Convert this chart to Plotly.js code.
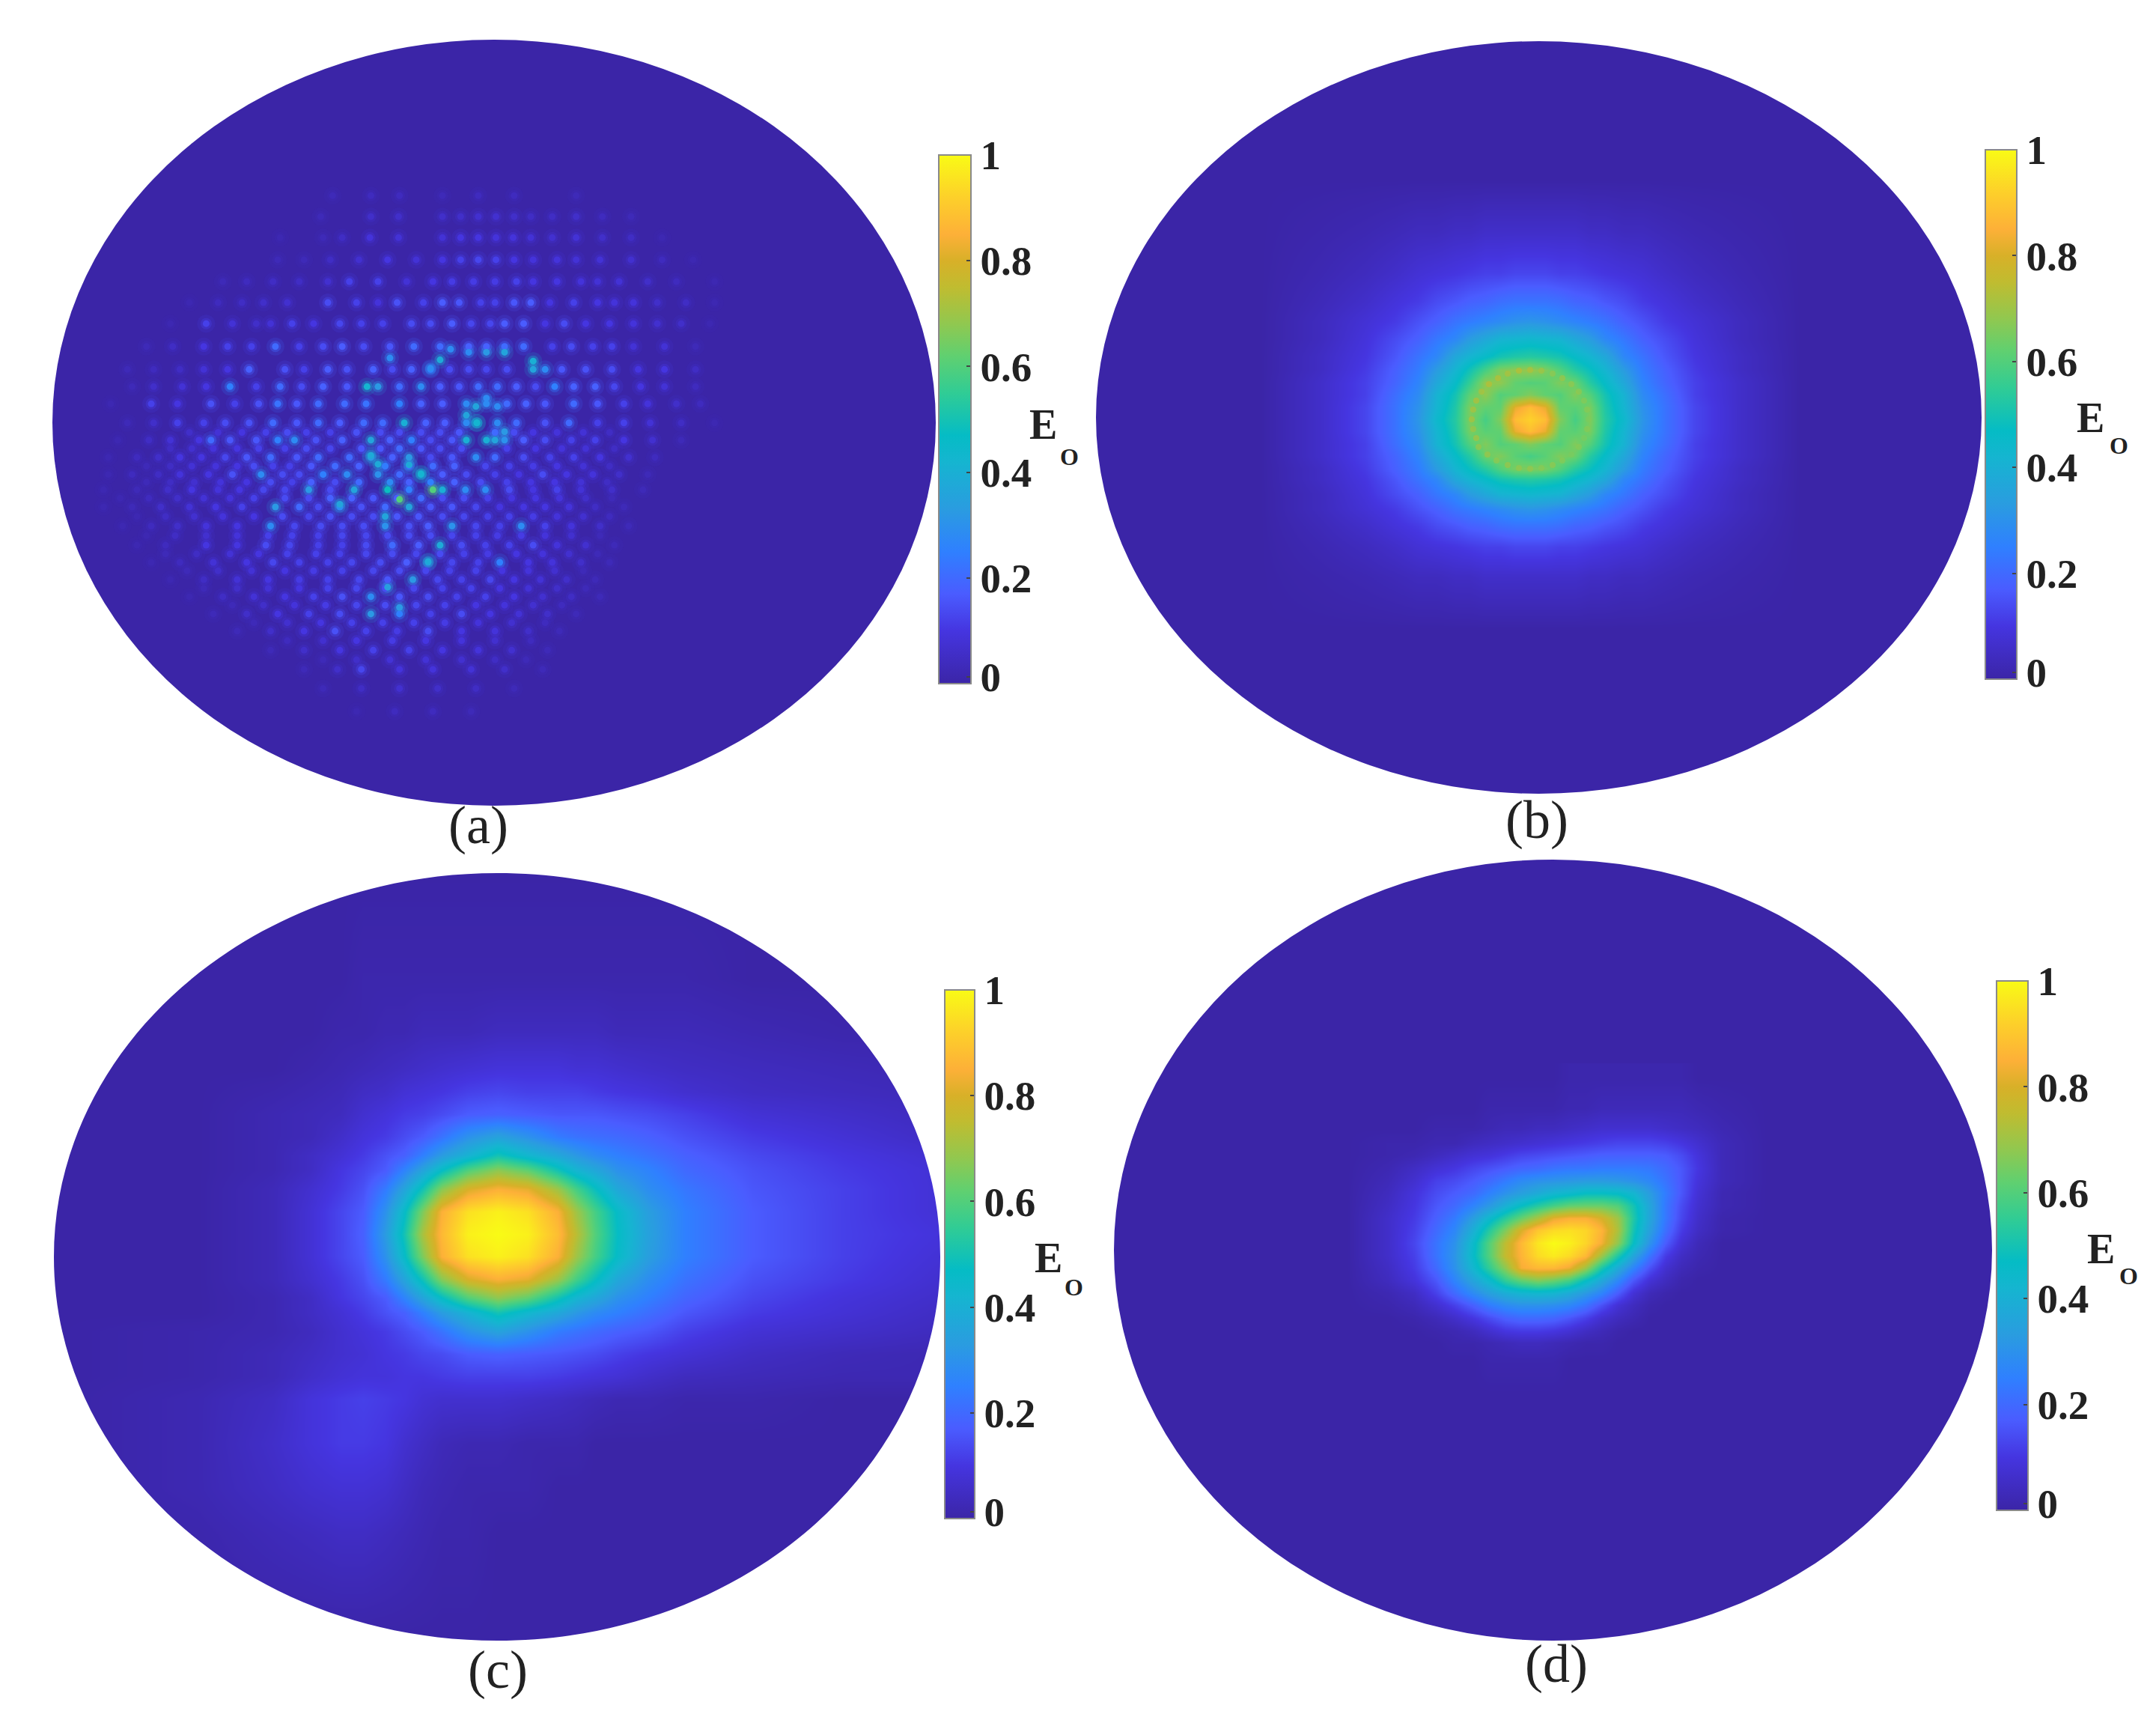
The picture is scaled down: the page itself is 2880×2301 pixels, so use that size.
<!DOCTYPE html>
<html>
<head>
<meta charset="utf-8">
<script src="https://cdn.plot.ly/plotly-3.0.1.min.js"></script>
<style>html,body{margin:0;padding:0;background:#fff}</style>
</head>
<body>
<div id="plot" style="width:2880px;height:2301px"></div>
<script>
// colour scale
var parula = [[0,'#3b25a7'],[0.1,'#4535e0'],[0.17,'#4a5cff'],[0.25,'#2f80ff'],[0.33,'#2a9ce0'],[0.42,'#15b5d0'],[0.47,'#05bcc5'],[0.55,'#30cc95'],[0.62,'#60d070'],[0.68,'#90c850'],[0.75,'#c0bc30'],[0.8,'#d8b028'],[0.85,'#fdb038'],[0.92,'#fdd02a'],[1,'#f9fb15']];
// the 0 label sits a little above the end of the bar
var barTicks = [0.013,0.2,0.4,0.6,0.8,1];
var barLabels = ['0','0.2','0.4','0.6','0.8','1'];

// (a) lattice of spots, one list per row
var dotRowY = [120,175,230,288,345,400,455,515,575,620,665,715,760,805,850,890,935,985,1035,1080,1125,1170,1215,1260,1310,1360,1410,1470];
var dotRowX = [
 [540,620,680,770,845,920,1050],
 [515,620,678,770,808,845,882,920,955,1000,1050,1105,1165],
 [430,520,560,618,678,770,808,845,882,918,955,1000,1050,1105,1165,1230],
 [425,480,535,595,655,715,770,808,845,882,920,960,1010,1050,1100,1165,1230,1295],
 [310,360,415,470,530,575,635,695,750,790,835,880,925,960,1010,1060,1095,1140,1200,1260,1340],
 [240,300,350,395,445,530,590,635,675,730,770,805,850,880,920,955,995,1045,1095,1130,1170,1220,1280,1340],
 [200,275,330,380,410,455,500,555,600,645,705,745,790,830,870,900,940,985,1025,1070,1120,1170,1220,1270,1330],
 [150,205,270,320,370,420,470,520,560,605,660,710,765,825,862,900,940,1000,1040,1085,1125,1170,1235,1300],
 [110,165,220,270,320,365,440,480,530,570,625,665,705,745,785,825,862,905,960,985,1020,1070,1125,1180,1235,1300],
 [120,165,225,275,325,380,430,475,520,570,612,635,680,725,765,805,845,885,925,965,1005,1045,1090,1130,1185,1235,1300],
 [75,160,215,285,335,385,425,465,510,565,610,680,725,770,820,862,905,945,985,1045,1095,1150,1200,1260,1310],
 [110,165,215,270,315,365,415,465,510,555,605,645,690,735,775,820,842,885,925,985,1035,1095,1150,1205,1270,1340],
 [90,155,200,260,285,325,380,425,460,505,560,620,660,705,745,790,820,862,900,940,985,1040,1090,1150,1210,1270],
 [70,130,175,220,265,315,360,410,465,510,575,620,665,700,745,790,840,880,940,995,1045,1100,1160,1215],
 [70,120,175,220,280,330,390,435,470,520,570,635,680,725,770,820,880,930,980,1030,1085,1140,1200],
 [60,130,195,245,300,345,395,440,490,535,585,655,700,750,770,818,860,910,960,1010,1060,1125,1190],
 [60,120,180,240,295,350,420,470,510,555,600,650,700,745,790,840,890,940,985,1035,1090,1150],
 [100,160,215,275,340,410,460,515,560,605,650,700,740,790,840,890,935,985,1040,1100,1160],
 [130,190,275,340,400,450,510,560,610,665,720,765,810,860,910,960,1010,1070,1130],
 [160,220,290,360,415,470,530,580,640,695,740,790,845,890,950,1000,1060,1120],
 [200,270,340,405,470,530,595,655,708,760,810,870,920,975,1030,1090],
 [240,310,375,440,500,560,620,680,740,800,860,920,980,1040,1100],
 [290,360,425,490,555,620,680,745,810,870,930,990,1050],
 [340,410,480,545,610,675,740,810,880,950,1015],
 [410,480,555,625,700,770,845,915,990],
 [480,550,600,680,750,830,900,980],
 [520,600,680,760,840,920],
 [590,670,750,830]
];
var dotRowV = [
 [.03,.04,.04,.03,.04,.04,.03],
 [.03,.06,.06,.06,.06,.07,.07,.06,.05,.05,.06,.04,.03],
 [.02,.03,.05,.09,.08,.08,.1,.1,.09,.09,.08,.07,.08,.06,.05,.02],
 [.03,.03,.05,.07,.1,.08,.1,.12,.13,.12,.1,.09,.09,.08,.08,.07,.04,.02],
 [.03,.04,.05,.05,.07,.12,.12,.08,.1,.11,.11,.11,.12,.1,.1,.09,.08,.08,.06,.04,.02],
 [.02,.04,.05,.06,.07,.14,.12,.09,.15,.12,.17,.16,.12,.12,.16,.17,.1,.12,.1,.09,.09,.06,.05,.02],
 [.02,.12,.08,.06,.08,.12,.1,.13,.12,.12,.14,.14,.17,.13,.13,.17,.17,.1,.14,.1,.1,.09,.07,.06,.02],
 [.03,.05,.1,.12,.12,.2,.12,.14,.17,.14,.16,.2,.2,.18,.18,.2,.2,.12,.14,.12,.12,.08,.08,.03],
 [.03,.04,.05,.08,.1,.18,.15,.12,.17,.15,.18,.14,.18,.25,.14,.14,.13,.14,.36,.28,.16,.15,.14,.1,.1,.05],
 [.03,.06,.08,.1,.25,.12,.2,.14,.18,.16,.42,.32,.2,.28,.17,.16,.2,.2,.17,.14,.25,.18,.18,.13,.1,.08,.04],
 [.02,.12,.1,.15,.12,.15,.22,.16,.2,.2,.22,.25,.18,.17,.28,.28,.2,.18,.16,.2,.16,.12,.09,.06,.04],
 [.03,.06,.12,.12,.14,.15,.2,.16,.2,.17,.2,.2,.4,.18,.17,.28,.42,.28,.2,.15,.2,.12,.12,.08,.05,.02],
 [.02,.05,.08,.1,.2,.16,.16,.25,.28,.15,.18,.36,.18,.25,.14,.16,.4,.4,.3,.17,.14,.12,.12,.1,.07,.03],
 [.02,.04,.06,.1,.1,.13,.16,.2,.16,.2,.2,.32,.18,.32,.14,.16,.28,.2,.14,.12,.12,.1,.07,.04],
 [.02,.04,.05,.09,.1,.15,.28,.14,.14,.25,.28,.3,.2,.4,.17,.14,.12,.1,.14,.1,.09,.06,.03],
 [.02,.03,.06,.1,.09,.1,.13,.13,.32,.14,.36,.48,.25,.6,.4,.28,.28,.14,.1,.12,.08,.06,.03],
 [.02,.03,.06,.08,.1,.12,.32,.2,.14,.28,.15,.2,.36,.16,.16,.13,.1,.1,.1,.09,.05,.03],
 [.02,.04,.06,.09,.1,.28,.13,.14,.14,.14,.3,.15,.17,.3,.13,.12,.28,.12,.09,.06,.03],
 [.02,.04,.1,.1,.14,.13,.12,.12,.14,.2,.17,.38,.14,.12,.12,.14,.09,.07,.03],
 [.02,.04,.08,.1,.13,.12,.12,.13,.14,.17,.32,.13,.12,.25,.1,.09,.06,.03],
 [.02,.05,.08,.1,.11,.12,.13,.16,.32,.13,.12,.13,.1,.08,.06,.03],
 [.02,.05,.08,.1,.12,.15,.28,.16,.14,.12,.12,.1,.07,.05,.03],
 [.03,.06,.1,.12,.14,.32,.25,.12,.14,.1,.08,.06,.03],
 [.03,.06,.1,.15,.12,.11,.14,.1,.09,.06,.03],
 [.03,.06,.1,.12,.12,.1,.09,.07,.03],
 [.03,.06,.13,.09,.09,.08,.06,.03],
 [.03,.05,.07,.06,.05,.03],
 [.02,.04,.04,.03]
];
// (a) weaker spots sitting between those rows in the lower half
var fillRowY = [740,782,828,870,912,960,1010,1058,1102,1148,1192,1238,1285,1335];
var fillRowX = [
 [240,300,350,400,445,485,535,590,640,680,725,765,805,880,920,960,1010,1065,1120],
 [200,245,290,340,385,440,485,535,600,640,680,725,765,810,905,965,1020,1070,1130],
 [150,200,245,295,340,375,415,450,495,545,595,650,700,750,795,860,910,960,1010,1065,1120],
 [150,200,250,305,360,410,455,495,545,595,660,700,745,795,850,905,955,1005,1060,1115],
 [95,155,215,270,325,375,440,490,535,580,625,675,725,770,815,865,915,965,1015,1070,1125],
 [130,190,250,310,375,435,490,535,580,625,675,720,770,815,865,910,960,1010,1065,1120],
 [150,210,275,340,405,455,510,560,610,655,700,745,790,840,885,935,985,1040,1100],
 [190,255,325,385,445,505,555,610,665,715,765,815,865,925,980,1035,1095],
 [235,300,370,440,500,560,625,680,735,785,840,895,950,1005,1065],
 [270,340,405,470,530,590,650,710,770,830,890,950,1010,1070],
 [330,395,460,525,590,650,715,775,840,900,960,1020],
 [375,445,515,580,645,710,775,845,915,985],
 [445,520,590,665,735,810,880,955],
 [520,590,660,735,810,880,945]
];
var fillRowV = [
 [.06,.08,.1,.12,.14,.12,.12,.15,.14,.14,.14,.14,.16,.2,.14,.1,.09,.08,.05],
 [.05,.07,.09,.1,.12,.12,.14,.13,.16,.16,.2,.16,.14,.14,.12,.1,.09,.08,.05],
 [.03,.05,.08,.09,.1,.14,.12,.12,.16,.2,.18,.24,.2,.2,.18,.13,.12,.11,.1,.08,.05],
 [.03,.05,.07,.09,.1,.14,.12,.18,.14,.2,.28,.18,.25,.18,.14,.12,.1,.1,.08,.05],
 [.02,.04,.06,.08,.09,.12,.14,.14,.18,.18,.16,.18,.2,.14,.14,.12,.1,.1,.09,.06,.03],
 [.02,.05,.07,.09,.1,.14,.13,.15,.14,.14,.16,.16,.14,.13,.12,.12,.11,.09,.07,.04],
 [.02,.05,.07,.09,.12,.12,.12,.13,.13,.14,.14,.14,.13,.12,.11,.11,.09,.07,.03],
 [.03,.05,.08,.1,.12,.12,.12,.13,.14,.13,.14,.12,.11,.1,.09,.07,.03],
 [.03,.06,.08,.1,.11,.12,.13,.14,.13,.12,.12,.1,.09,.07,.03],
 [.03,.06,.08,.1,.12,.13,.14,.13,.12,.12,.1,.08,.06,.03],
 [.03,.06,.09,.11,.13,.14,.13,.12,.1,.09,.07,.04],
 [.03,.07,.1,.12,.12,.12,.11,.09,.07,.04],
 [.04,.07,.1,.11,.1,.09,.07,.04],
 [.03,.06,.08,.08,.07,.05,.03]
];
// (a) the few brightest spots
var brightX = [960,900,862,825,787,765,745,660,680,840,820,862,880,900,842,885,620,635,725,700,650,555,680,740,655];
var brightY = [553,530,530,530,522,550,572,545,915,672,695,650,760,738,715,672,800,823,848,825,960,928,1198,1078,1145];
var brightV = [.4,.36,.32,.28,.28,.38,.28,.28,.6,.36,.36,.28,.36,.32,.42,.28,.38,.38,.42,.38,.36,.36,.32,.38,.34];

// (b)
var bX = [1684,1764,1824,1864,1894,1919,1944,1964,1984,2004,2024,2044,2064,2084,2104,2124,2144,2169,2194,2224,2264,2324,2404];
var bY = [240,310,365,402,429,452,476,494,511,527,544,560,576,593,609,626,640,660,680,702,730,770,840];
var bZ = [
 [0,0,0,0,0,0,0,0,0,0,0,0,0,0,0,0,0,0,0,0,0,0,0],
 [0,.01,.02,.03,.04,.04,.05,.05,.06,.06,.06,.06,.06,.06,.06,.05,.05,.04,.04,.03,.02,.01,0],
 [0,.02,.04,.06,.08,.09,.10,.11,.12,.12,.13,.13,.13,.12,.12,.11,.10,.09,.08,.06,.04,.02,0],
 [0,.03,.06,.09,.11,.14,.16,.18,.19,.21,.22,.22,.22,.21,.19,.18,.16,.14,.11,.09,.06,.03,0],
 [0,.04,.08,.11,.15,.18,.22,.24,.26,.28,.30,.31,.30,.28,.26,.24,.22,.18,.15,.11,.08,.04,0],
 [0,.04,.09,.14,.18,.23,.27,.33,.37,.41,.42,.43,.42,.41,.37,.33,.27,.23,.18,.14,.09,.04,0],
 [0,.05,.10,.16,.22,.27,.37,.42,.46,.50,.52,.53,.52,.50,.46,.42,.37,.27,.22,.16,.10,.05,0],
 [0,.05,.11,.18,.24,.33,.42,.50,.58,.66,.68,.69,.66,.60,.53,.48,.42,.33,.24,.18,.11,.05,0],
 [0,.06,.12,.19,.26,.37,.46,.56,.68,.68,.62,.60,.61,.66,.63,.53,.46,.37,.26,.19,.12,.06,0],
 [0,.06,.12,.21,.28,.41,.50,.62,.68,.60,.62,.66,.62,.60,.66,.60,.50,.41,.28,.21,.12,.06,0],
 [0,.06,.13,.22,.30,.42,.52,.66,.62,.62,.82,.88,.82,.62,.61,.65,.52,.42,.30,.22,.13,.06,0],
 [0,.06,.13,.22,.31,.44,.53,.66,.58,.66,.88,.92,.88,.66,.58,.66,.53,.44,.31,.22,.13,.06,0],
 [0,.06,.13,.22,.30,.42,.52,.65,.61,.62,.82,.88,.82,.62,.61,.65,.52,.42,.30,.22,.13,.06,0],
 [0,.06,.12,.21,.28,.41,.50,.60,.66,.60,.62,.66,.62,.60,.66,.60,.50,.41,.28,.21,.12,.06,0],
 [0,.06,.12,.19,.26,.37,.46,.53,.63,.66,.61,.58,.61,.66,.63,.53,.46,.37,.26,.19,.12,.06,0],
 [0,.05,.11,.18,.24,.33,.42,.48,.53,.60,.65,.66,.65,.60,.53,.48,.42,.33,.24,.18,.11,.05,0],
 [0,.05,.10,.16,.22,.27,.37,.42,.46,.50,.52,.53,.52,.50,.46,.42,.37,.27,.22,.16,.10,.05,0],
 [0,.04,.09,.14,.18,.23,.27,.33,.37,.41,.42,.43,.42,.41,.37,.33,.27,.23,.18,.14,.09,.04,0],
 [0,.04,.08,.11,.15,.18,.22,.24,.26,.28,.30,.31,.30,.28,.26,.24,.22,.18,.15,.11,.08,.04,0],
 [0,.03,.06,.09,.11,.14,.16,.18,.19,.21,.22,.22,.22,.21,.19,.18,.16,.14,.11,.09,.06,.03,0],
 [0,.02,.04,.06,.08,.09,.10,.11,.12,.12,.13,.13,.13,.12,.12,.11,.10,.09,.08,.06,.04,.02,0],
 [0,.01,.02,.03,.04,.04,.05,.05,.06,.06,.06,.06,.06,.06,.06,.05,.05,.04,.04,.03,.02,.01,0],
 [0,0,0,0,0,0,0,0,0,0,0,0,0,0,0,0,0,0,0,0,0,0,0]
];
// (b) speckle along the bright ring
var ringX = [2122,2120,2116,2109,2099,2087,2074,2059,2044,2029,2014,1999,1987,1975,1972,1968,1966,1968,1972,1979,1989,2001,2014,2029,2044,2059,2074,2087,2099,2109,2116,2120];
var ringY = [560,573,585,597,607,615,621,625,626,625,621,615,607,597,585,573,560,547,535,523,513,505,499,495,494,495,499,505,513,523,535,547];
var ringV = [.66,.68,.66,.68,.66,.68,.7,.68,.7,.7,.72,.7,.72,.72,.74,.72,.74,.74,.76,.74,.76,.76,.74,.76,.74,.72,.7,.72,.7,.7,.68,.68];

// (c)
var cX = [72,265,365,415,455,485,515,540,565,590,625,665,705,745,770,795,825,865,915,1005,1125,1256];
var cY = [1166,1308,1378,1428,1458,1488,1518,1543,1563,1588,1618,1648,1678,1708,1733,1753,1778,1808,1838,1868,1928,1988,2048,2191];
var cZ = [
 [0,0,0,0,0,0,0,0,0,0,0,0,0,0,0,0,0,0,0,0,0,0],
 [0,0,0,0,0,.01,.01,.01,.01,.01,.01,.01,.01,.01,.01,.01,.01,.01,.01,0,0,0],
 [0,0,0,0,.01,.01,.02,.02,.03,.03,.03,.04,.04,.04,.04,.04,.03,.03,.03,.02,.01,.01],
 [0,0,0,.01,.02,.03,.04,.05,.06,.07,.08,.09,.09,.09,.08,.08,.07,.06,.05,.04,.03,.02],
 [0,0,.01,.02,.03,.05,.06,.08,.09,.1,.12,.13,.12,.12,.12,.11,.1,.09,.07,.05,.04,.03],
 [0,0,.02,.03,.04,.07,.09,.11,.12,.14,.17,.18,.17,.16,.16,.16,.15,.14,.12,.08,.06,.04],
 [0,0,.02,.03,.06,.09,.11,.14,.17,.22,.3,.35,.3,.24,.22,.21,.2,.18,.15,.11,.08,.05],
 [0,0,.02,.05,.08,.11,.15,.18,.25,.33,.41,.5,.43,.37,.32,.28,.25,.22,.18,.135,.1,.07],
 [0,0,.02,.05,.1,.13,.17,.26,.36,.47,.6,.68,.62,.5,.42,.37,.3,.26,.2,.15,.11,.08],
 [0,0,.03,.07,.11,.15,.24,.36,.5,.67,.8,.85,.82,.7,.58,.48,.37,.29,.23,.16,.12,.08],
 [0,0,.03,.08,.13,.17,.3,.46,.66,.85,.95,.98,.95,.85,.7,.58,.46,.34,.25,.17,.12,.08],
 [0,0,.03,.08,.13,.18,.33,.5,.72,.87,.98,1,.98,.88,.74,.6,.47,.35,.25,.17,.12,.09],
 [0,0,.03,.08,.13,.17,.3,.46,.66,.85,.95,.98,.95,.85,.7,.58,.46,.34,.25,.17,.12,.08],
 [0,0,.03,.07,.11,.15,.24,.36,.5,.67,.8,.85,.82,.7,.58,.48,.37,.29,.22,.15,.11,.07],
 [0,0,.02,.05,.1,.13,.17,.26,.36,.47,.6,.68,.62,.5,.42,.37,.3,.25,.19,.13,.09,.06],
 [0,0,.02,.05,.08,.11,.15,.18,.25,.33,.41,.5,.43,.37,.32,.28,.25,.21,.16,.11,.08,.05],
 [0,.01,.02,.04,.07,.09,.11,.14,.17,.22,.3,.35,.3,.24,.22,.2,.18,.16,.12,.08,.06,.04],
 [0,.01,.03,.05,.07,.08,.1,.11,.13,.14,.17,.18,.17,.16,.15,.14,.12,.1,.08,.05,.03,.02],
 [0,.01,.03,.06,.08,.09,.09,.1,.1,.11,.12,.12,.12,.11,.1,.09,.08,.06,.04,.03,.02,.02],
 [0,.02,.05,.09,.11,.12,.11,.1,.08,.07,.07,.07,.06,.05,.04,.03,.02,.02,.01,.01,0,0],
 [0,.02,.06,.09,.11,.11,.1,.07,.05,.03,.02,.02,.01,.01,.01,0,0,0,0,0,0,0],
 [0,.02,.05,.07,.08,.08,.07,.05,.03,.02,.01,.01,.01,0,0,0,0,0,0,0,0,0],
 [0,.01,.03,.04,.05,.05,.04,.03,.02,.01,.01,0,0,0,0,0,0,0,0,0,0,0],
 [0,0,0,0,0,0,0,0,0,0,0,0,0,0,0,0,0,0,0,0,0,0]
];

// (d)
var dX = [1800,1854,1889,1918,1943,1968,1989,2011,2032,2054,2075,2096,2118,2139,2161,2182,2204,2225,2246,2268,2300,2360];
var dY = [1440,1480,1507,1527,1543,1560,1577,1593,1610,1627,1643,1660,1677,1693,1710,1727,1743,1760,1777,1793,1817,1860];
var dZ = [
 [0,0,0,0,0,0,0,0,0,0,0,.01,.01,.01,.01,.01,.01,.01,.01,0,0,0],
 [0,0,0,0,0,0,.01,.01,.01,.01,.01,.02,.02,.03,.03,.03,.03,.03,.03,.02,.01,0],
 [0,0,0,.01,.01,.01,.02,.03,.03,.04,.04,.05,.06,.07,.07,.07,.07,.06,.05,.04,.02,0],
 [0,.01,.01,.02,.02,.04,.05,.06,.07,.08,.09,.1,.11,.12,.13,.13,.13,.12,.1,.07,.03,0],
 [0,.01,.02,.04,.06,.08,.09,.11,.13,.14,.15,.16,.17,.18,.18,.18,.18,.17,.14,.09,.03,0],
 [0,.02,.05,.08,.1,.13,.15,.17,.19,.2,.22,.23,.23,.24,.24,.24,.23,.2,.16,.1,.03,0],
 [0,.03,.07,.12,.14,.17,.2,.24,.28,.3,.31,.32,.33,.33,.32,.3,.27,.22,.16,.09,.03,0],
 [0,.04,.09,.14,.17,.2,.25,.3,.34,.38,.42,.44,.47,.47,.46,.42,.33,.24,.16,.08,.02,0],
 [0,.05,.1,.16,.2,.26,.32,.4,.47,.53,.58,.62,.63,.63,.6,.5,.36,.23,.14,.07,.02,0],
 [0,.06,.11,.18,.24,.34,.44,.54,.63,.72,.82,.85,.85,.8,.7,.52,.36,.23,.13,.06,.01,0],
 [0,.06,.12,.2,.27,.4,.53,.66,.8,.9,.94,.95,.93,.86,.72,.5,.34,.21,.11,.05,.01,0],
 [0,.06,.13,.22,.3,.45,.6,.75,.87,.96,1,.98,.93,.84,.68,.47,.3,.17,.08,.03,0,0],
 [0,.06,.12,.22,.31,.46,.6,.76,.86,.94,.97,.94,.87,.7,.52,.36,.22,.11,.05,.02,0,0],
 [0,.05,.11,.2,.3,.43,.55,.68,.84,.87,.87,.83,.7,.52,.38,.26,.15,.07,.03,.01,0,0],
 [0,.04,.09,.16,.26,.36,.44,.55,.62,.66,.63,.58,.47,.37,.27,.16,.08,.04,.01,0,0,0],
 [0,.02,.05,.12,.2,.28,.34,.39,.42,.43,.42,.38,.32,.26,.17,.08,.03,.01,0,0,0,0],
 [0,.01,.03,.07,.12,.18,.24,.28,.3,.3,.29,.27,.22,.15,.08,.04,.01,0,0,0,0,0],
 [0,0,.01,.03,.06,.1,.14,.18,.2,.2,.19,.16,.12,.07,.04,.02,0,0,0,0,0,0],
 [0,0,0,.01,.02,.04,.07,.1,.11,.11,.1,.08,.05,.03,.01,0,0,0,0,0,0,0],
 [0,0,0,0,.01,.01,.02,.03,.04,.04,.03,.02,.01,.01,0,0,0,0,0,0,0,0],
 [0,0,0,0,0,0,.01,.01,.01,.01,.01,0,0,0,0,0,0,0,0,0,0,0],
 [0,0,0,0,0,0,0,0,0,0,0,0,0,0,0,0,0,0,0,0,0,0]
];

// page layout, in reference pixels
var W = 2880, H = 2301;
var ellipses = [[70,53,1250,1076],[1464,55,2647,1060],[72,1166,1256,2191],[1488,1148,2661,2191]];
var bars = [[1254,207,1297,913],[2652,200,2694,907],[1262,1322,1302,2028],[2667,1310,2709,2017]];
var panelNames = ['(a)','(b)','(c)','(d)'];
var nameX = [639,2053,665,2079], nameY = [1102,1095,2230,2222];
var eX = [1393,2792,1400,2806], eY = [567,558,1680,1668];
var oX = [1428,2830,1434,2843], oY = [610,595,1719,1704];
var serif = 'Liberation Serif, Times New Roman, serif';

function colorbar(i) {
    var b = bars[i];
    return {
        x: b[0] / W, xanchor: 'left', xpad: 0,
        y: 1 - b[3] / H, yanchor: 'bottom', ypad: 0,
        len: (b[3] - b[1]) / H, lenmode: 'fraction',
        thickness: b[2] - b[0], thicknessmode: 'pixels',
        outlinecolor: '#8a8a8a', outlinewidth: 2, borderwidth: 0,
        tickmode: 'array', tickvals: barTicks, ticktext: barLabels,
        ticks: 'inside', ticklen: 7, tickwidth: 2, tickcolor: '#444',
        tickfont: {family: serif, size: 55, color: '#222', weight: 'bold'}
    };
}

function heat(x, y, z, i) {
    return {type: 'heatmap', x: x, y: y, z: z, zmin: 0, zmax: 1, zsmooth: 'best',
        colorscale: parula, colorbar: colorbar(i), hoverinfo: 'skip'};
}

var dotX = [], dotY = [], dotV = [];
function addRows(rowY, rowX, rowV) {
    rowY.forEach(function (py, r) {
        rowX[r].forEach(function (px, k) {
            dotX.push(px); dotY.push(py); dotV.push(rowV[r][k]);
        });
    });
}
addRows(fillRowY, fillRowX, fillRowV);
addRows(dotRowY, dotRowX, dotRowV);
addRows(brightY.map(function (py) { return py; }), brightX.map(function (px) { return [px]; }), brightV.map(function (v) { return [v]; }));

function spots(size, alpha, withBar) {
    return {type: 'scatter', mode: 'markers', x: dotX, y: dotY, xaxis: 'x2', yaxis: 'y2',
        marker: {size: size, opacity: alpha, color: dotV, cmin: 0, cmax: 1, colorscale: parula,
            showscale: withBar, colorbar: withBar ? colorbar(0) : undefined, line: {width: 0}},
        hoverinfo: 'skip', showlegend: false};
}

var traces = [
    spots(24, 0.16, false), spots(15, 0.35, false), spots(9, 1, true),
    heat(bX, bY, bZ, 1), heat(cX, cY, cZ, 2), heat(dX, dY, dZ, 3),
    {type: 'scatter', mode: 'markers', x: ringX, y: ringY,
        marker: {size: 8, opacity: 0.55, color: ringV, cmin: 0, cmax: 1, colorscale: parula, showscale: false, line: {width: 0}},
        hoverinfo: 'skip', showlegend: false}
];

// dark discs under everything
var shapes = ellipses.map(function (e) {
    return {type: 'circle', layer: 'below', xref: 'x', yref: 'y', x0: e[0], y0: e[1], x1: e[2], y1: e[3],
        fillcolor: '#3b25a7', line: {width: 0}};
});

// heatmap (c) reaches the rim, so the corners get whited out
function rimMask(e, pad) {
    var cx = (e[0] + e[2]) / 2, cy = (e[1] + e[3]) / 2, a = (e[2] - e[0]) / 2, b = (e[3] - e[1]) / 2, k = 0.5523;
    var p = 'M' + (e[0] - pad) + ',' + (e[1] - pad) + ' L' + (e[2] + pad) + ',' + (e[1] - pad) + ' L' + (e[2] + pad) + ',' + (e[3] + pad) + ' L' + (e[0] - pad) + ',' + (e[3] + pad) + ' Z ';
    p += 'M' + (cx - a) + ',' + cy;
    p += ' C' + (cx - a) + ',' + (cy - k * b) + ' ' + (cx - k * a) + ',' + (cy - b) + ' ' + cx + ',' + (cy - b);
    p += ' C' + (cx + k * a) + ',' + (cy - b) + ' ' + (cx + a) + ',' + (cy - k * b) + ' ' + (cx + a) + ',' + cy;
    p += ' C' + (cx + a) + ',' + (cy + k * b) + ' ' + (cx + k * a) + ',' + (cy + b) + ' ' + cx + ',' + (cy + b);
    p += ' C' + (cx - k * a) + ',' + (cy + b) + ' ' + (cx - a) + ',' + (cy + k * b) + ' ' + (cx - a) + ',' + cy + ' Z';
    return p;
}
shapes.push({type: 'path', layer: 'above', xref: 'x', yref: 'y', path: rimMask(ellipses[2], 76),
    fillcolor: '#ffffff', fillrule: 'evenodd', line: {width: 0}});

var annotations = [];
panelNames.forEach(function (name, i) {
    annotations.push({x: nameX[i], y: nameY[i], xref: 'x', yref: 'y', text: name, showarrow: false,
        font: {family: serif, size: 72, color: '#222'}});
    annotations.push({x: eX[i], y: eY[i], xref: 'x', yref: 'y', text: '<b>E</b>', showarrow: false,
        font: {family: serif, size: 56, color: '#222'}});
    annotations.push({x: oX[i], y: oY[i], xref: 'x', yref: 'y', text: '<b>O</b>', showarrow: false,
        font: {family: serif, size: 32, color: '#222'}});
});

var layout = {
    width: W, height: H,
    margin: {l: 0, r: 0, t: 0, b: 0, pad: 0},
    paper_bgcolor: '#ffffff', plot_bgcolor: 'rgba(0,0,0,0)',
    showlegend: false,
    xaxis: {range: [0, W], visible: false, fixedrange: true},
    yaxis: {range: [H, 0], visible: false, fixedrange: true},
    // crop of panel (a) the spots were read from
    xaxis2: {domain: [100 / W, 1100 / W], range: [0, 1568], visible: false, anchor: 'y2', fixedrange: true},
    yaxis2: {domain: [1 - 1000 / H, 1 - 200 / H], range: [1568, 0], visible: false, anchor: 'x2', fixedrange: true},
    shapes: shapes,
    annotations: annotations
};

Plotly.newPlot('plot', traces, layout, {displayModeBar: false, staticPlot: true});
</script>
</body>
</html>
